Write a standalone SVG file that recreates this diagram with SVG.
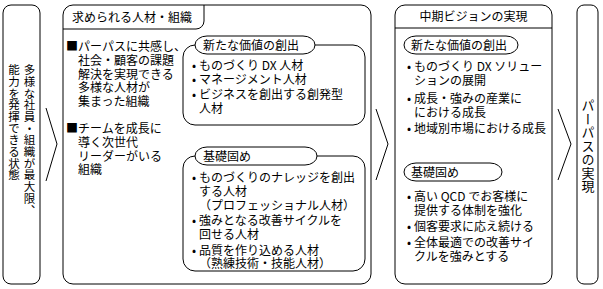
<svg xmlns="http://www.w3.org/2000/svg" width="603" height="289" viewBox="0 0 603 289">
<style>
.b{fill:#fff;stroke:#000;stroke-width:1}
.l{fill:none;stroke:#000;stroke-width:1}
text{font-family:"Noto Sans CJK JP","Noto Sans CJK SC",sans-serif;font-size:12px;fill:#000}
.v{writing-mode:vertical-rl}
.bu{text-anchor:middle}
</style>
<rect width="603" height="289" fill="#fff"/>
<g id="connectors">
<polyline class="l" points="46,108 57,144 46,181"/>
<polyline class="l" points="376,109 388,144 376,180"/>
<polyline class="l" points="558,109 571,144 558,180"/>
</g>
<g id="state">
<rect class="b" x="3" y="5" width="37" height="279" rx="8"/>
<text class="v" x="29.5" y="64" style="font-size:11.5px;letter-spacing:0.2px">多様な社員・組織が最大限、</text>
<text class="v" x="14" y="64" style="font-size:11.5px;letter-spacing:0.2px">能力を発揮できる状態</text>
</g>
<g id="talent">
<rect class="b" x="63" y="5" width="308" height="279" rx="10"/>
<path class="l" d="M63,29 H196 A8,8 0 0 0 204,21 V5"/>
<text x="72" y="22">求められる人材・組織</text>
<text x="66" y="51">■</text><text x="78" y="51">パーパスに共感し、</text>
<text x="78" y="65">社会・顧客の課題</text>
<text x="78" y="78.5">解決を実現できる</text>
<text x="78" y="92">多様な人材が</text>
<text x="78" y="105.5">集まった組織</text>
<text x="66" y="133">■</text><text x="78" y="133">チームを成長に</text>
<text x="78" y="147">導く次世代</text>
<text x="78" y="160.5">リーダーがいる</text>
<text x="78" y="174">組織</text>
</g>
<g id="talent-new">
<rect class="b" x="183" y="45" width="182" height="80" rx="12"/>
<rect class="b" x="195" y="36" width="120" height="18" rx="12" ry="9"/>
<text x="203" y="49.5">新たな価値の創出</text>
<text class="bu" x="194" y="69.5">•</text><text x="199" y="69.5">ものづくり DX 人材</text>
<text class="bu" x="194" y="84">•</text><text x="199" y="84">マネージメント人材</text>
<text class="bu" x="194" y="98.5">•</text><text x="199" y="98.5">ビジネスを創出する創発型</text>
<text x="199" y="112.5">人材</text>
</g>
<g id="talent-base">
<rect class="b" x="183" y="156" width="182" height="115" rx="12"/>
<rect class="b" x="195" y="147" width="122" height="18" rx="12" ry="9"/>
<text x="203" y="160.5">基礎固め</text>
<text class="bu" x="194" y="181.5">•</text><text x="199" y="181.5">ものづくりのナレッジを創出</text>
<text x="199" y="195.5">する人材</text>
<text x="199" y="209.5">（プロフェッショナル人材）</text>
<text class="bu" x="194" y="225">•</text><text x="199" y="225">強みとなる改善サイクルを</text>
<text x="199" y="239">回せる人材</text>
<text class="bu" x="194" y="254.5">•</text><text x="199" y="254.5">品質を作り込める人材</text>
<text x="199" y="268">（熟練技術・技能人材）</text>
</g>
<g id="vision">
<rect class="b" x="395" y="5" width="157" height="279" rx="10"/>
<line class="l" x1="395" y1="28" x2="552" y2="28"/>
<text x="473.5" y="21" text-anchor="middle">中期ビジョンの実現</text>
<rect class="b" x="404" y="36" width="114" height="18" rx="12" ry="9"/>
<text x="411" y="49.5">新たな価値の創出</text>
<text class="bu" x="409" y="70.5">•</text><text x="414" y="70.5">ものづくり DX ソリュー</text>
<text x="414" y="84.5">ションの展開</text>
<text class="bu" x="409" y="103">•</text><text x="414" y="103">成長・強みの産業に</text>
<text x="414" y="117">における成長</text>
<text class="bu" x="409" y="132.5">•</text><text x="414" y="132.5">地域別市場における成長</text>
<rect class="b" x="404" y="163" width="98" height="18" rx="12" ry="9"/>
<text x="411" y="176.5">基礎固め</text>
<text class="bu" x="409" y="200.5">•</text><text x="414" y="200.5">高い QCD でお客様に</text>
<text x="414" y="214.5">提供する体制を強化</text>
<text class="bu" x="409" y="230.5">•</text><text x="414" y="230.5">個客要求に応え続ける</text>
<text class="bu" x="409" y="246.5">•</text><text x="414" y="246.5">全体最適での改善サイ</text>
<text x="414" y="260.5">クルを強みとする</text>
</g>
<g id="purpose">
<rect class="b" x="577" y="5" width="21" height="279" rx="7"/>
<text class="v" x="588" y="99" style="font-size:13px;letter-spacing:0.5px">パーパスの実現</text>
</g>
</svg>
